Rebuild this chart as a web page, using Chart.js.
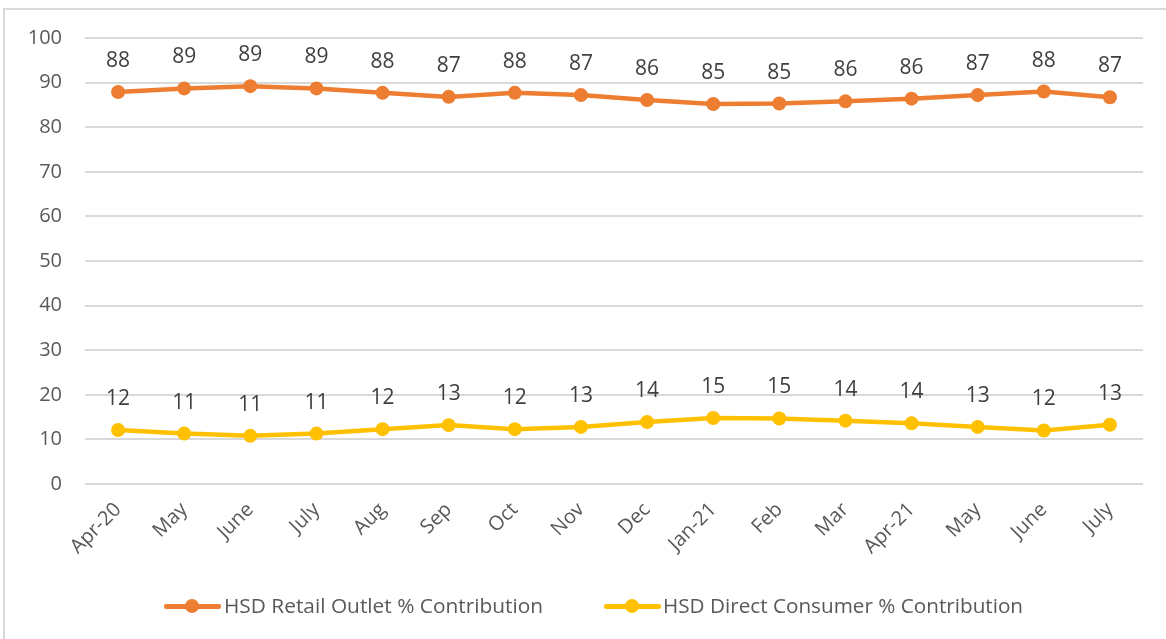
<!DOCTYPE html>
<html>
<head>
<meta charset="utf-8">
<script src="https://cdn.jsdelivr.net/npm/chart.js@4.4.0/dist/chart.umd.min.js"></script>
<style>
  body { margin: 0; background: #fff; overflow: hidden; }
  #frame { position: absolute; left: 3px; top: 8px; width: 1200px; height: 700px; border: 2px solid #d9d9d9; }
  #wrap { position: absolute; left: 0; top: 0; width: 1166px; height: 639px; }
  .lg { position: absolute; top: 593px; height: 26px; font-family: "Open Sans", sans-serif; font-size: 20px; color: #595959; white-space: nowrap; line-height: 26px; }
  .lg-txt { display: inline-block; transform-origin: left center; }
  .ico { position: absolute; top: 595px; width: 57px; height: 22px; }
  .ico .ln { position: absolute; left: 0; right: 0; top: 9px; height: 4.5px; border-radius: 2px; }
  .ico .dt { position: absolute; left: 21px; top: 4px; width: 14px; height: 14px; border-radius: 50%; }
</style>
</head>
<body>
<div id="frame"></div>
<div id="wrap"><canvas id="myChart" width="1166" height="639"></canvas></div>

<div class="ico" style="left:164px"><div class="ln" style="background:#ED7D31"></div><div class="dt" style="background:#ED7D31"></div></div>
<div class="lg" style="left:224px"><span class="lg-txt" data-w="319">HSD Retail Outlet % Contribution</span></div>
<div class="ico" style="left:604px"><div class="ln" style="background:#FFC000"></div><div class="dt" style="background:#FFC000"></div></div>
<div class="lg" style="left:663px"><span class="lg-txt" data-w="360">HSD Direct Consumer % Contribution</span></div>

<script>
var months = ["Apr-20", "May", "June", "July", "Aug", "Sep", "Oct", "Nov", "Dec", "Jan-21", "Feb", "Mar", "Apr-21", "May", "June", "July"];
var retailOutlet = [87.9, 88.7, 89.2, 88.7, 87.7, 86.8, 87.7, 87.2, 86.1, 85.2, 85.3, 85.8, 86.4, 87.2, 88.0, 86.7];
var directConsumer = [12.1, 11.3, 10.8, 11.3, 12.3, 13.2, 12.3, 12.8, 13.9, 14.8, 14.7, 14.2, 13.6, 12.8, 12.0, 13.3];
var yTicks = [0, 10, 20, 30, 40, 50, 60, 70, 80, 90, 100];

// fit legend text to the width seen in the picture
document.querySelectorAll(".lg-txt").forEach(function (el) {
    var k = parseFloat(el.dataset.w) / el.offsetWidth;
    el.style.transform = "scaleX(" + k + ")";
});

// value labels above each point
var pointLabels = {
    id: "pointLabels",
    afterDatasetsDraw: function (chart) {
        var ctx = chart.ctx;
        ctx.save();
        ctx.font = "21px 'Open Sans'";
        ctx.fillStyle = "#404040";
        ctx.textAlign = "center";
        ctx.textBaseline = "middle";
        chart.data.datasets.forEach(function (ds, i) {
            chart.getDatasetMeta(i).data.forEach(function (pt, j) {
                ctx.fillText(Math.round(ds.data[j]), pt.x, pt.y - 31);
            });
        });
        ctx.restore();
    }
};

const ctx = document.getElementById('myChart');
new Chart(ctx, {
    type: 'line',
    data: {
        labels: months,
        datasets: [{
            label: "HSD Retail Outlet % Contribution",
            data: retailOutlet,
            borderColor: "#ED7D31",
            backgroundColor: "#ED7D31",
            borderWidth: 4.5,
            pointRadius: 7,
            pointBorderWidth: 0,
            tension: 0
        }, {
            label: "HSD Direct Consumer % Contribution",
            data: directConsumer,
            borderColor: "#FFC000",
            backgroundColor: "#FFC000",
            borderWidth: 4.5,
            pointRadius: 7,
            pointBorderWidth: 0,
            tension: 0
        }]
    },
    options: {
        responsive: false,
        animation: false,
        layout: { padding: { top: 38, right: 23, bottom: 55, left: 0 } },
        plugins: {
            legend: { display: false },
            tooltip: { enabled: false }
        },
        scales: {
            x: {
                offset: true,
                grid: { display: false },
                border: { display: false },
                ticks: {
                    color: "#595959",
                    font: { family: "Open Sans", size: 20 },
                    minRotation: 45,
                    maxRotation: 45,
                    padding: 6
                },
                afterFit: function (scale) { scale.height = 100; }
            },
            y: {
                min: 0,
                max: 100,
                afterBuildTicks: function (scale) {
                    scale.ticks = yTicks.map(function (v) { return { value: v }; });
                },
                grid: { color: "#d9d9d9", lineWidth: 2, drawTicks: false },
                border: { display: false },
                ticks: {
                    color: "#595959",
                    font: { family: "Open Sans", size: 20 },
                    padding: 23
                },
                afterFit: function (scale) { scale.width = 85; }
            }
        }
    },
    plugins: [pointLabels]
});
</script>
</body>
</html>
